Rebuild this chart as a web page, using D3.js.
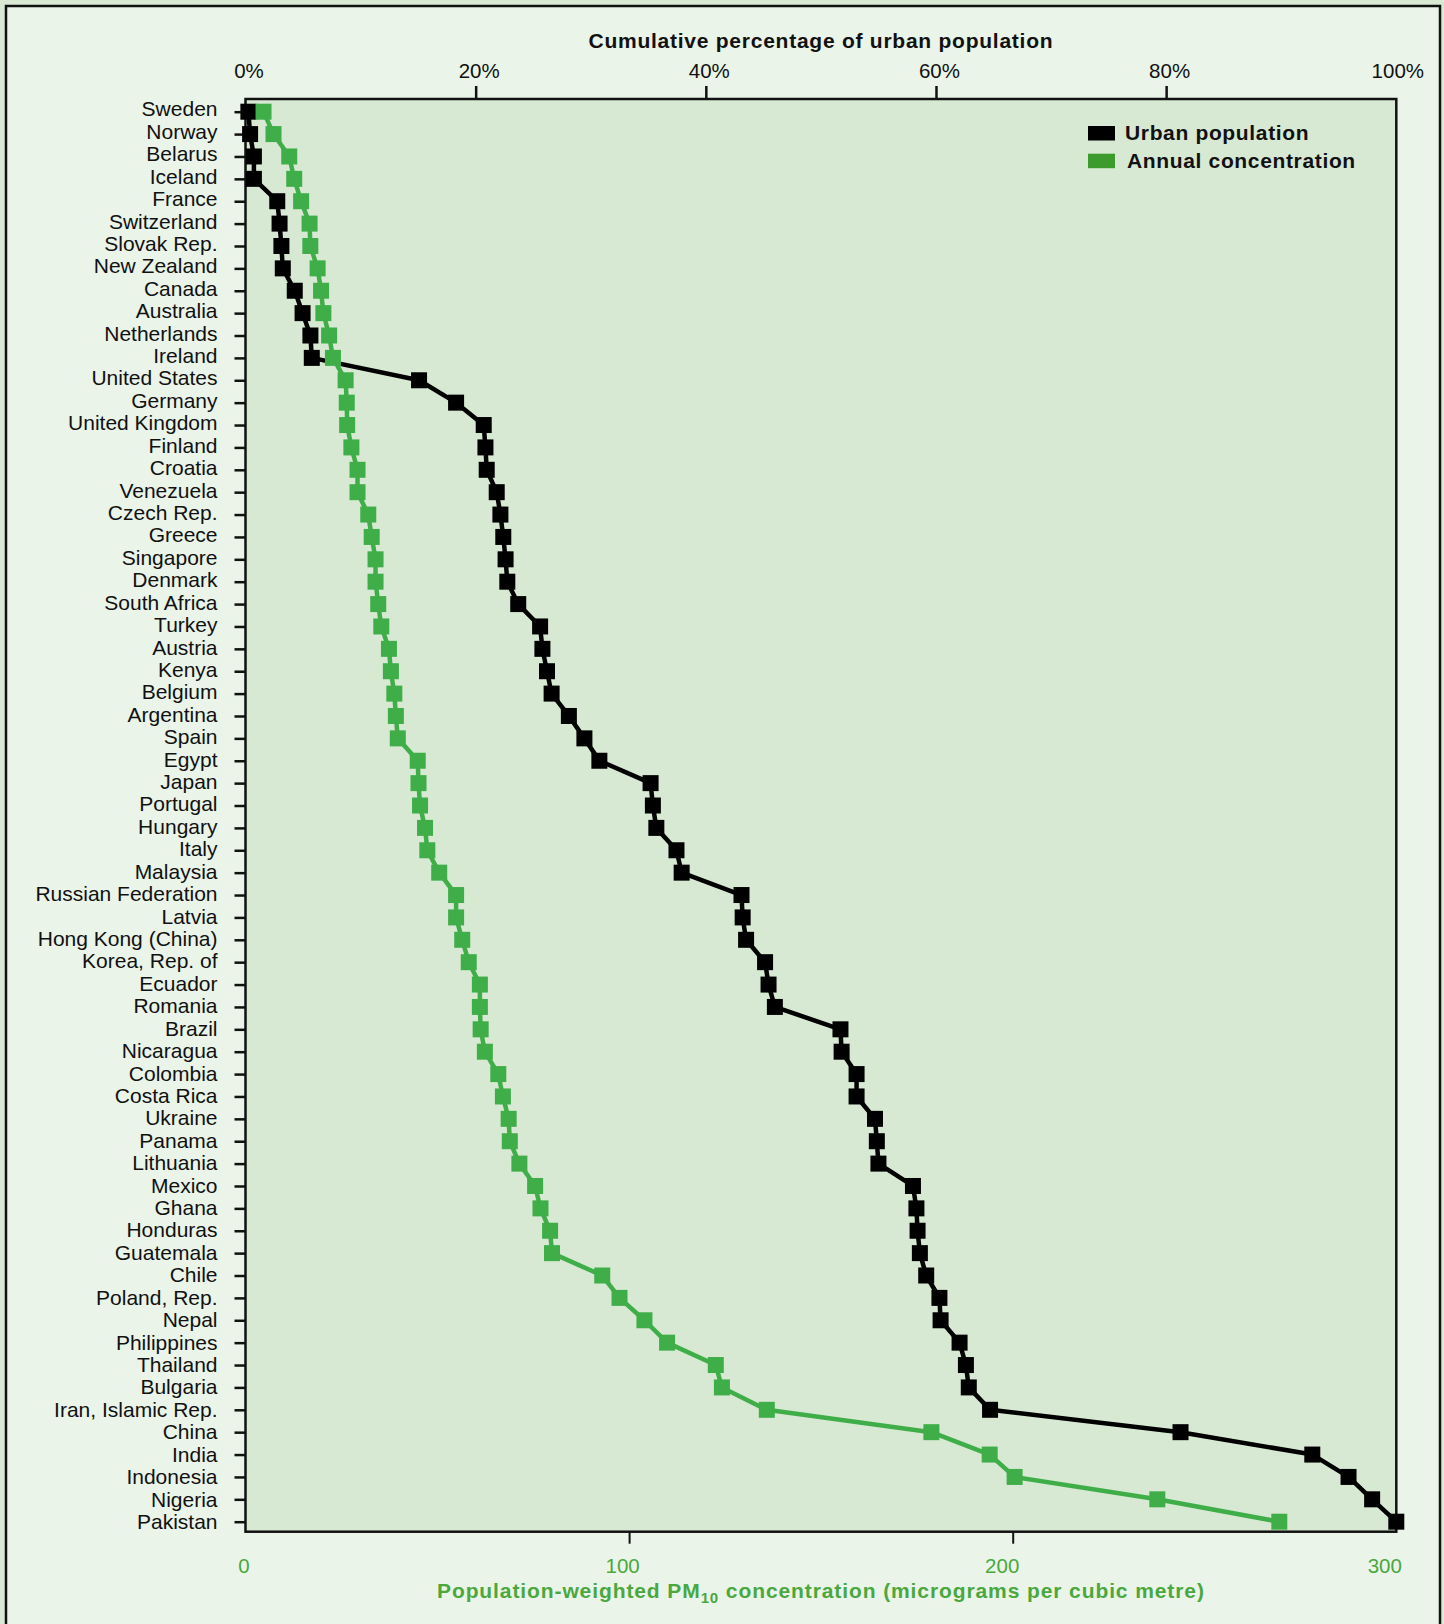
<!DOCTYPE html>
<html>
<head>
<meta charset="utf-8">
<script src="https://cdn.jsdelivr.net/npm/d3@7"></script>
<style>
  html, body { margin: 0; padding: 0; background: #d9e9d4; }
  svg { display: block; }
  text { font-family: "Liberation Sans", Arial, Helvetica, sans-serif; }
</style>
</head>
<body>
<svg id="chart" width="1444" height="1624"></svg>
<script>
// ---- Data ----
const countries = ["Sweden","Norway","Belarus","Iceland","France","Switzerland","Slovak Rep.","New Zealand","Canada","Australia","Netherlands","Ireland","United States","Germany","United Kingdom","Finland","Croatia","Venezuela","Czech Rep.","Greece","Singapore","Denmark","South Africa","Turkey","Austria","Kenya","Belgium","Argentina","Spain","Egypt","Japan","Portugal","Hungary","Italy","Malaysia","Russian Federation","Latvia","Hong Kong (China)","Korea, Rep. of","Ecuador","Romania","Brazil","Nicaragua","Colombia","Costa Rica","Ukraine","Panama","Lithuania","Mexico","Ghana","Honduras","Guatemala","Chile","Poland, Rep.","Nepal","Philippines","Thailand","Bulgaria","Iran, Islamic Rep.","China","India","Indonesia","Nigeria","Pakistan"];

// Cumulative percentage of urban population (top axis)
const urbanPopulation = [0.25,0.4,0.73,0.73,2.76,2.96,3.12,3.24,4.28,4.96,5.64,5.76,15.08,18.3,20.7,20.85,20.96,21.83,22.15,22.4,22.6,22.75,23.7,25.6,25.8,26.2,26.6,28.1,29.45,30.75,35.2,35.4,35.7,37.45,37.9,43.1,43.2,43.5,45.15,45.45,46.0,51.7,51.8,53.1,53.1,54.7,54.86,55.0,58.0,58.3,58.4,58.6,59.15,60.3,60.4,62.05,62.6,62.85,64.7,81.25,92.7,95.85,97.9,100];

// Population-weighted PM10 concentration (bottom axis)
const annualConcentration = [4.7,7.3,11.4,12.7,14.5,16.7,16.9,18.8,19.7,20.3,21.8,22.8,26.1,26.4,26.5,27.6,29.2,29.2,32.0,32.9,33.9,33.9,34.6,35.4,37.4,37.9,38.8,39.2,39.7,44.9,45.1,45.5,46.8,47.4,50.5,54.9,54.9,56.5,58.2,61.1,61.1,61.3,62.4,65.9,67.1,68.6,68.9,71.4,75.5,76.9,79.4,79.9,93.0,97.5,104.0,109.9,122.6,124.2,135.9,178.8,194.0,200.5,237.7,269.5];

const pctTicks = [0,20,40,60,80,100];
const concTicks = [0,100,200,300];
const legendLabels = ["Urban population","Annual concentration"];

// ---- Layout ----
const svg = d3.select("#chart");
const L = 245.5, R = 1396.3, T = 99, B = 1531.7;
const GREEN = "#3fae49", GREEN_TXT = "#4aa83e", LEG_GREEN = "#3d9b2d";

// outer frame
svg.append("rect").attr("x", 0).attr("y", 0).attr("width", 1444).attr("height", 1624).attr("fill", "#d9e9d4");
svg.append("rect").attr("x", 6).attr("y", 6).attr("width", 1434).attr("height", 1640)
  .attr("fill", "#eaf4e9").attr("stroke", "#111").attr("stroke-width", 2.5);

// plot background
svg.append("rect").attr("x", L).attr("y", T).attr("width", R - L).attr("height", B - T)
  .attr("fill", "#d7e9d2");

const xPct = d3.scaleLinear().domain([0, 100]).range([L, R]);
const xConc = d3.scaleLinear().domain([0, 300]).range([L, R]);
const y = d3.scalePoint().domain(countries).range([111.7, 1521.7]);

// top axis
const topAx = svg.append("g").attr("transform", `translate(0,${T})`)
  .call(d3.axisTop(xPct).tickValues(pctTicks).tickFormat(d => d + "%").tickSize(13).tickPadding(8));
topAx.select(".domain").remove();
topAx.selectAll(".tick line").attr("stroke", "#111").attr("stroke-width", 2.5)
  .filter(d => d === 0 || d === 100).remove();
topAx.selectAll(".tick text").attr("font-size", 20.5).attr("fill", "#111")
  .attr("font-family", "Liberation Sans, Arial, sans-serif")
  .attr("dx", d => d === 100 ? 1 : 3);

// bottom axis
const botDx = {0: -2, 100: -7, 200: -11, 300: -12};
const botAx = svg.append("g").attr("transform", `translate(0,${B})`)
  .call(d3.axisBottom(xConc).tickValues(concTicks).tickSize(12).tickPadding(15));
botAx.select(".domain").remove();
botAx.selectAll(".tick line").attr("stroke", "#111").attr("stroke-width", 2)
  .filter(d => d === 0 || d === 300).remove();
botAx.selectAll(".tick text").attr("font-size", 20.5).attr("fill", GREEN_TXT)
  .attr("font-family", "Liberation Sans, Arial, sans-serif")
  .attr("dx", d => botDx[d]);

// left axis
const leftAx = svg.append("g").attr("transform", `translate(${L},0)`)
  .call(d3.axisLeft(y).tickSize(11).tickPadding(17));
leftAx.select(".domain").remove();
leftAx.selectAll(".tick line").attr("stroke", "#111").attr("stroke-width", 2.5);
leftAx.selectAll(".tick text").attr("font-size", 21).attr("fill", "#111")
  .attr("font-family", "Liberation Sans, Arial, sans-serif")
  .attr("dy", (d, i) => (0.2 + 0.12 * i / 63) + "em");

// plot border
svg.append("rect").attr("x", L).attr("y", T).attr("width", R - L).attr("height", B - T)
  .attr("fill", "none").attr("stroke", "#111").attr("stroke-width", 2.5);

// titles
svg.append("text").attr("x", (L + R) / 2).attr("y", 48).attr("text-anchor", "middle")
  .attr("font-size", 21).attr("font-weight", "bold").attr("letter-spacing", 0.75).attr("fill", "#111")
  .text("Cumulative percentage of urban population");

const bt = svg.append("text").attr("x", (L + R) / 2).attr("y", 1598).attr("text-anchor", "middle")
  .attr("font-size", 21).attr("font-weight", "bold").attr("letter-spacing", 0.9).attr("fill", GREEN_TXT);
bt.append("tspan").text("Population-weighted PM");
bt.append("tspan").attr("font-size", 15).attr("dy", 5).text("10");
bt.append("tspan").attr("dy", -5).text(" concentration (micrograms per cubic metre)");

// ---- Series ----
const S = 16;
const blackLine = d3.line().x(d => xPct(d[1])).y(d => y(d[0]));
const urbanPts = countries.map((c, i) => [c, urbanPopulation[i]]);
svg.append("path").datum(urbanPts).attr("d", blackLine)
  .attr("fill", "none").attr("stroke", "#000").attr("stroke-width", 4.5).attr("stroke-linejoin", "round");
svg.append("g").selectAll("rect").data(urbanPts).join("rect")
  .attr("x", d => xPct(d[1]) - S / 2).attr("y", d => y(d[0]) - S / 2)
  .attr("width", S).attr("height", S).attr("fill", "#000");

const greenLine = d3.line().x(d => xConc(d[1])).y(d => y(d[0]));
const concPts = countries.map((c, i) => [c, annualConcentration[i]]);
svg.append("path").datum(concPts).attr("d", greenLine)
  .attr("fill", "none").attr("stroke", GREEN).attr("stroke-width", 4.5).attr("stroke-linejoin", "round");
svg.append("g").selectAll("rect").data(concPts).join("rect")
  .attr("x", d => xConc(d[1]) - S / 2).attr("y", d => y(d[0]) - S / 2)
  .attr("width", S).attr("height", S).attr("fill", GREEN);

// ---- Legend ----
const legColors = ["#000", LEG_GREEN];
const leg = svg.append("g");
legendLabels.forEach((lab, i) => {
  const yy = 126 + i * 27.7;
  leg.append("rect").attr("x", 1088).attr("y", yy).attr("width", 27).attr("height", 14.5).attr("fill", legColors[i]);
  leg.append("text").attr("x", i === 0 ? 1125 : 1127).attr("y", yy + 14.2)
    .attr("font-size", 21).attr("font-weight", "bold").attr("letter-spacing", 0.65).attr("fill", "#111").text(lab);
});
</script>
</body>
</html>
